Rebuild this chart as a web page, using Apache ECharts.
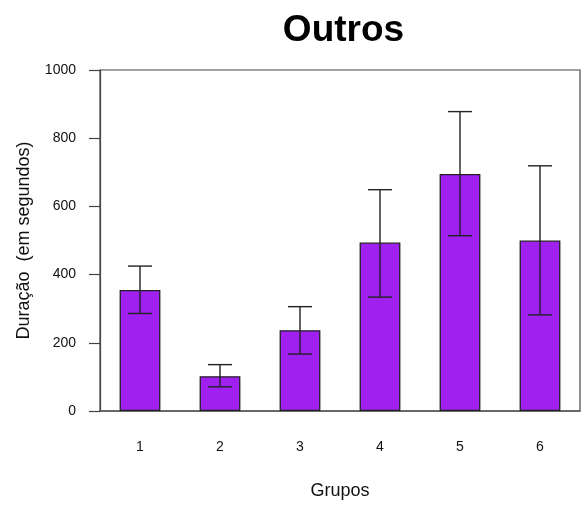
<!DOCTYPE html>
<html>
<head>
<meta charset="utf-8">
<script src="https://cdn.jsdelivr.net/npm/echarts@6/dist/echarts.min.js"></script>
<style>html,body{margin:0;padding:0;background:#fff}#c{width:581px;height:506px}</style>
</head>
<body>
<div id="c"></div>
<script>
const categories = ['1', '2', '3', '4', '5', '6'];
const means = [355, 102, 237, 494, 695, 500];
const lower = [286, 71, 167, 334, 514, 282];
const upper = [425, 136, 306, 649, 878, 719];
const yTicks = [0, 200, 400, 600, 800, 1000];

const chart = echarts.init(document.getElementById('c'));
const errData = categories.map((c, i) => [i, lower[i], upper[i]]);
chart.setOption({
  animation: false,
  backgroundColor: '#fff',
  title: {
    text: 'Outros', left: 338.5, textAlign: 'center', top: 7,
    textStyle: { fontFamily: 'Liberation Sans', fontWeight: 'bold', fontSize: 37, color: '#000' }
  },
  grid: { left: 100, right: 1, top: 70, bottom: 95, show: true, borderColor: '#444', borderWidth: 1.2, backgroundColor: 'transparent' },
  xAxis: {
    type: 'category', data: categories,
    axisLine: { show: true, lineStyle: { color: '#555', width: 1.5 } },
    axisTick: { show: false },
    axisLabel: { margin: 29, fontFamily: 'Liberation Sans', fontSize: 14, color: '#111' },
    name: 'Grupos', nameLocation: 'middle', nameGap: 71,
    nameTextStyle: { fontFamily: 'Liberation Sans', fontSize: 18, color: '#111' }
  },
  yAxis: {
    type: 'value', min: yTicks[0], max: yTicks[yTicks.length - 1], interval: 200,
    axisLine: { show: true, lineStyle: { color: '#444', width: 1.2 } },
    axisTick: { show: true, length: 11, lineStyle: { color: '#444', width: 1.2 } },
    splitLine: { show: false },
    axisLabel: { margin: 24, fontFamily: 'Liberation Sans', fontSize: 14, color: '#111', formatter: v => String(v) },
    name: 'Duração  (em segundos)', nameLocation: 'middle', nameGap: 67,
    nameTextStyle: { fontFamily: 'Liberation Sans', fontSize: 18, color: '#111' }
  },
  series: [
    {
      type: 'bar', data: means, barWidth: '51%',
      itemStyle: { color: '#A020F0', borderColor: '#222', borderWidth: 1.3 }
    },
    {
      type: 'custom', data: errData, z: 10,
      renderItem: function (params, api) {
        const x = api.value(0);
        const lo = api.coord([x, api.value(1)]);
        const hi = api.coord([x, api.value(2)]);
        const hw = 12;
        const style = { stroke: '#222', lineWidth: 1.4, fill: null };
        return {
          type: 'group',
          children: [
            { type: 'line', shape: { x1: lo[0], y1: lo[1], x2: hi[0], y2: hi[1] }, style: style },
            { type: 'line', shape: { x1: lo[0] - hw, y1: lo[1], x2: lo[0] + hw, y2: lo[1] }, style: style },
            { type: 'line', shape: { x1: hi[0] - hw, y1: hi[1], x2: hi[0] + hw, y2: hi[1] }, style: style }
          ]
        };
      }
    }
  ]
});
</script>
</body>
</html>
